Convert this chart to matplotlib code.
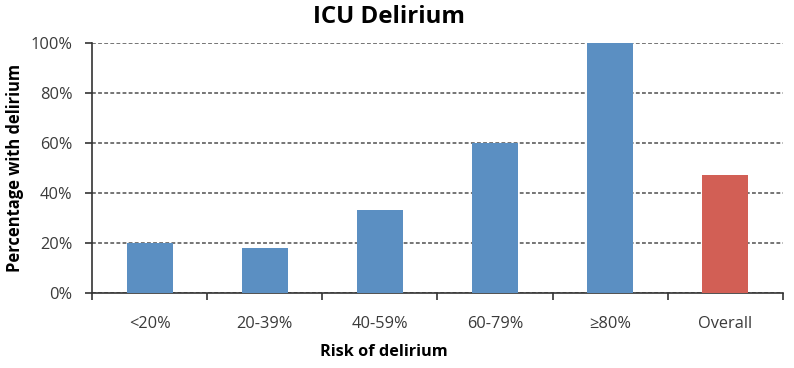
import matplotlib
matplotlib.use("Agg")
import matplotlib.pyplot as plt
from matplotlib.ticker import FixedLocator

categories = ["<20%", "20-39%", "40-59%", "60-79%", "≥80%", "Overall"]
values = [20, 18, 33, 60, 100, 47]
bar_colors = ["#5B8FC2", "#5B8FC2", "#5B8FC2", "#5B8FC2", "#5B8FC2", "#D25F55"]
yticks = [0, 20, 40, 60, 80, 100]
ytick_labels = ["0%", "20%", "40%", "60%", "80%", "100%"]

plt.rcParams['font.family'] = ['Open Sans', 'DejaVu Sans']

fig = plt.figure(figsize=(7.94, 3.68), dpi=100)
ax = fig.add_axes([0.1159, 0.2046, 0.8701, 0.6794])

x = list(range(len(categories)))
ax.bar(x, values, width=0.4, color=bar_colors, zorder=3)
ax.set_xlim(-0.5, len(categories) - 0.5)
ax.set_ylim(0, 100)
ax.set_yticks(yticks)
ax.set_yticklabels(ytick_labels, fontsize=11.8, color="#3a3a3a")
ax.yaxis.grid(True, linestyle=(0, (2.5, 1.5)), color="#505050", linewidth=1.1, zorder=1)
ax.set_axisbelow(True)

ax.set_xticks(x)
ax.set_xticklabels(categories, fontsize=11.8, color="#3a3a3a")
ax.tick_params(axis="x", length=0, pad=17)
ax.xaxis.set_minor_locator(FixedLocator([i + 0.5 for i in range(-1, len(categories))]))
ax.tick_params(axis="x", which="minor", length=5, width=1.2, color="#333333", direction="out")
ax.tick_params(axis="y", length=5, width=1.2, color="#333333", direction="out", pad=9)

for s in ["top", "right"]:
    ax.spines[s].set_visible(False)
for s in ["left", "bottom"]:
    ax.spines[s].set_color("#333333")
    ax.spines[s].set_linewidth(1.2)

fig.text(389 / 794, 1 - 17 / 368, "ICU Delirium", fontsize=17.3, fontweight="bold",
         ha="center", va="center")
fig.text(384 / 794, 1 - 352 / 368, "Risk of delirium", fontsize=11.7, fontweight="bold",
         ha="center", va="center")
fig.text(15 / 794, 1 - 168 / 368, "Percentage with delirium", fontsize=11.9, fontweight="bold",
         ha="center", va="center", rotation=90)

fig.savefig("out.png", dpi=100)
